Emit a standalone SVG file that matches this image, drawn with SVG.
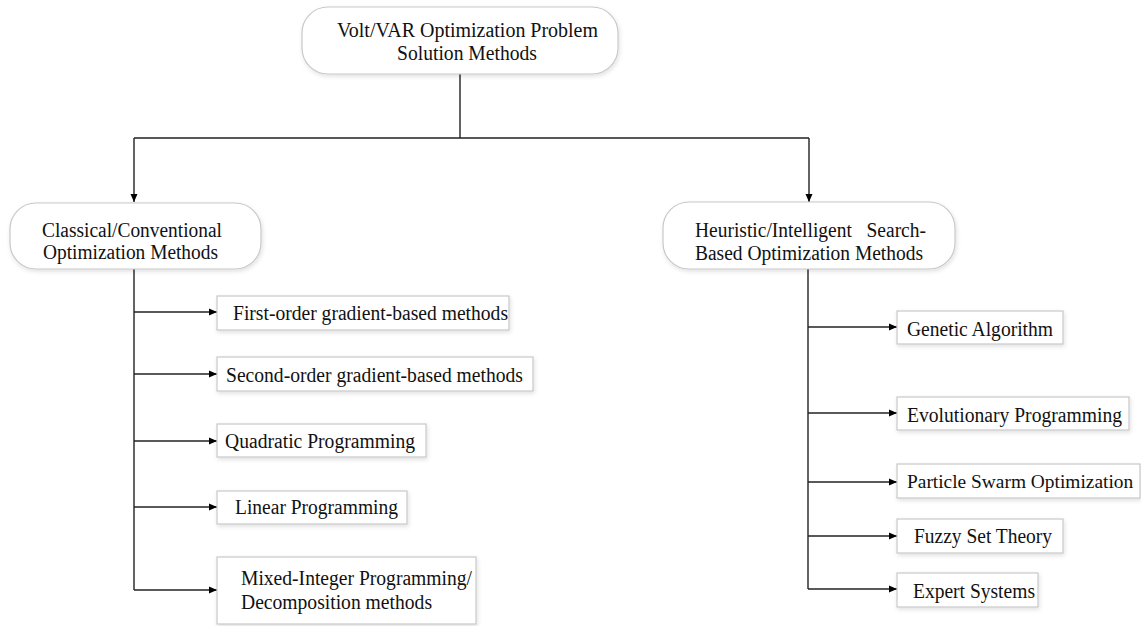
<svg xmlns="http://www.w3.org/2000/svg" width="1141" height="626" viewBox="0 0 1141 626">
<defs>
<filter id="sh" x="-10%" y="-20%" width="120%" height="150%"><feDropShadow dx="1" dy="2" stdDeviation="2" flood-color="#000" flood-opacity="0.12"/></filter>
<marker id="ah" markerWidth="8" markerHeight="8" refX="8" refY="4" orient="auto" markerUnits="userSpaceOnUse"><path d="M0,0.5 L8,4 L0,7.5 Z" fill="#000"/></marker>
</defs>
<style>
.rn{fill:#fff;stroke:#c8c8c8;stroke-width:1.2;filter:url(#sh)}
.bx{fill:#fff;stroke:#c8c8c8;stroke-width:1.2;filter:url(#sh)}
text{font-family:"Liberation Serif","Times New Roman",serif;font-size:20.8px;fill:#111}
.ln{fill:none;stroke:#222;stroke-width:1.4}
</style>
<rect width="1141" height="626" fill="#fff"/>
<g id="connectors">
<path class="ln" d="M460,74 V138 M134,138 H809"/>
<path class="ln" d="M134,138 V202" marker-end="url(#ah)"/>
<path class="ln" d="M809,138 V202" marker-end="url(#ah)"/>
<path class="ln" d="M134,269 V590"/>
<path class="ln" d="M134,312 H217" marker-end="url(#ah)"/>
<path class="ln" d="M134,374 H217" marker-end="url(#ah)"/>
<path class="ln" d="M134,441 H217" marker-end="url(#ah)"/>
<path class="ln" d="M134,507 H217" marker-end="url(#ah)"/>
<path class="ln" d="M134,590 H217" marker-end="url(#ah)"/>
<path class="ln" d="M808,269 V589"/>
<path class="ln" d="M808,327 H897" marker-end="url(#ah)"/>
<path class="ln" d="M808,413 H897" marker-end="url(#ah)"/>
<path class="ln" d="M808,482 H897" marker-end="url(#ah)"/>
<path class="ln" d="M808,536 H897" marker-end="url(#ah)"/>
<path class="ln" d="M808,589 H897" marker-end="url(#ah)"/>
</g>
<g id="root">
<rect class="rn" x="302" y="7" width="316" height="67" rx="26"/>
<text x="337" y="37" textLength="261" lengthAdjust="spacingAndGlyphs">Volt/VAR Optimization Problem</text>
<text x="397" y="60" textLength="140" lengthAdjust="spacingAndGlyphs">Solution Methods</text>
</g>
<g id="classical">
<rect class="rn" x="10" y="203" width="251" height="66" rx="26"/>
<text x="42" y="237" textLength="180" lengthAdjust="spacingAndGlyphs">Classical/Conventional</text>
<text x="43" y="259" textLength="175" lengthAdjust="spacingAndGlyphs">Optimization Methods</text>
</g>
<g id="heuristic">
<rect class="rn" x="663" y="202" width="292" height="67" rx="26"/>
<text x="695" y="237" xml:space="preserve" textLength="231" lengthAdjust="spacingAndGlyphs">Heuristic/Intelligent   Search-</text>
<text x="695" y="260" textLength="228" lengthAdjust="spacingAndGlyphs">Based Optimization Methods</text>
</g>
<g id="first-order">
<rect class="bx" x="217" y="296" width="292" height="34"/>
<text x="233" y="320" textLength="275" lengthAdjust="spacingAndGlyphs">First-order gradient-based methods</text>
</g>
<g id="second-order">
<rect class="bx" x="217" y="357" width="316" height="34"/>
<text x="226" y="382" textLength="297" lengthAdjust="spacingAndGlyphs">Second-order gradient-based methods</text>
</g>
<g id="quadratic">
<rect class="bx" x="217" y="424" width="209" height="33"/>
<text x="225" y="448" textLength="190" lengthAdjust="spacingAndGlyphs">Quadratic Programming</text>
</g>
<g id="linear">
<rect class="bx" x="217" y="491" width="190" height="33"/>
<text x="235" y="514" textLength="163" lengthAdjust="spacingAndGlyphs">Linear Programming</text>
</g>
<g id="mixed">
<rect class="bx" x="217" y="557" width="259" height="67"/>
<text x="241" y="585" textLength="231" lengthAdjust="spacingAndGlyphs">Mixed-Integer Programming/</text>
<text x="241" y="609" textLength="191" lengthAdjust="spacingAndGlyphs">Decomposition methods</text>
</g>
<g id="genetic">
<rect class="bx" x="897" y="311" width="166" height="33"/>
<text x="907" y="336" textLength="146" lengthAdjust="spacingAndGlyphs">Genetic Algorithm</text>
</g>
<g id="evolutionary">
<rect class="bx" x="897" y="397" width="232" height="33"/>
<text x="907" y="422" textLength="215" lengthAdjust="spacingAndGlyphs">Evolutionary Programming</text>
</g>
<g id="pso">
<rect class="bx" x="897" y="464" width="243" height="34"/>
<text x="907" y="488" style="font-size:19.4px">Particle Swarm Optimization</text>
</g>
<g id="fuzzy">
<rect class="bx" x="897" y="519" width="166" height="34"/>
<text x="914" y="543" textLength="138" lengthAdjust="spacingAndGlyphs">Fuzzy Set Theory</text>
</g>
<g id="expert">
<rect class="bx" x="897" y="573" width="141" height="34"/>
<text x="913" y="598" textLength="122" lengthAdjust="spacingAndGlyphs">Expert Systems</text>
</g>
</svg>
